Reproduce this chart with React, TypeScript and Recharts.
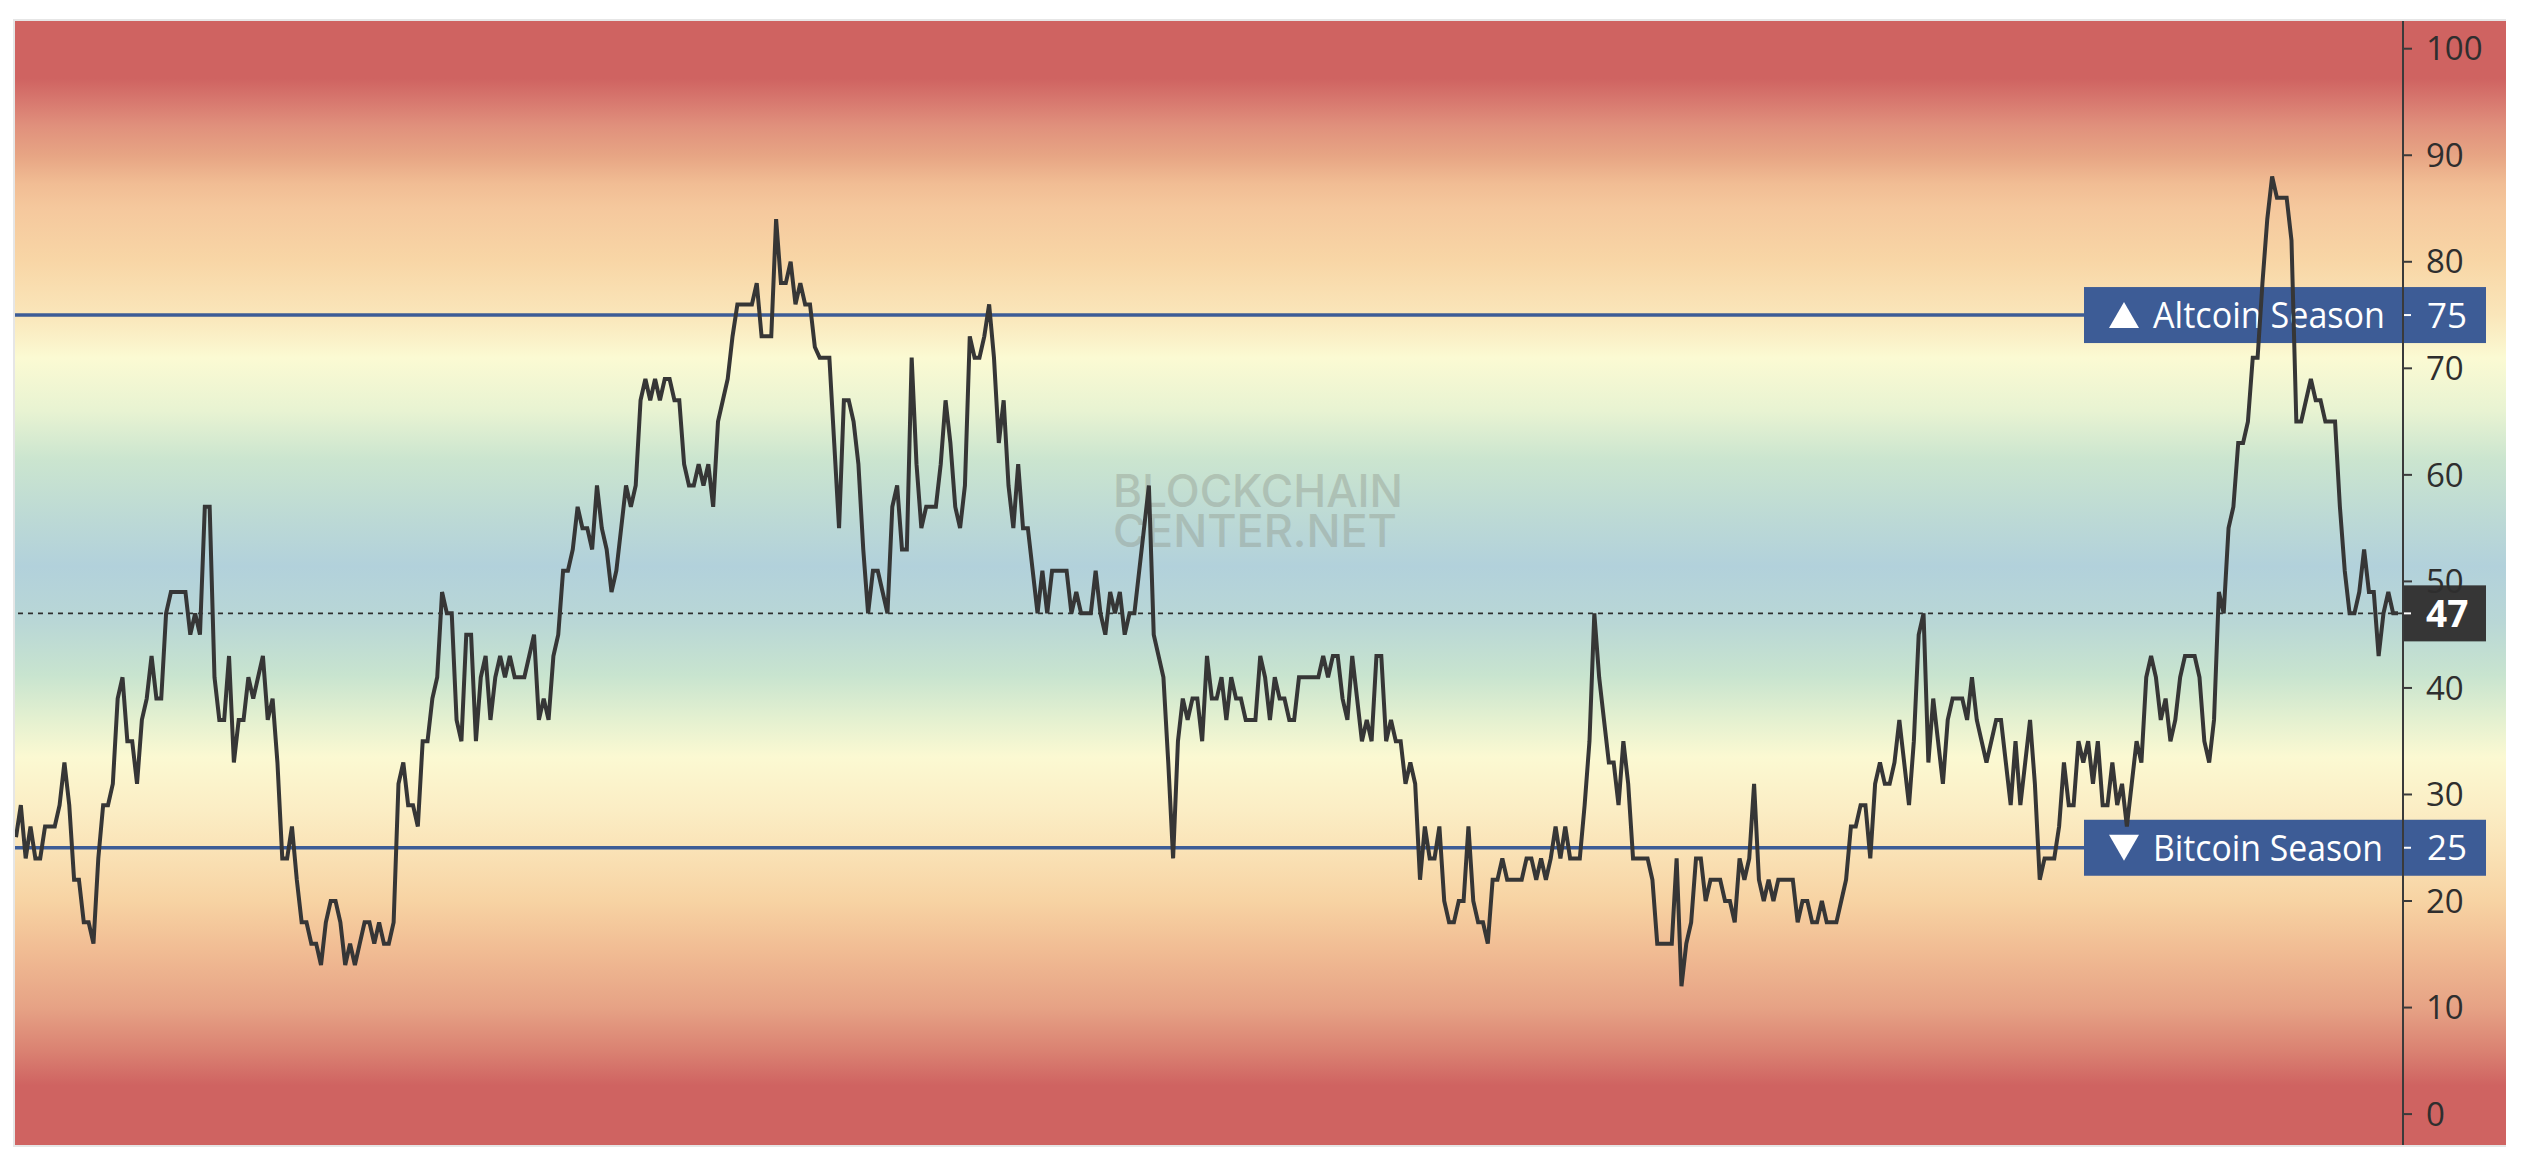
import React from 'react';
import { LineChart, Line, XAxis, YAxis, ReferenceLine } from 'recharts';

// Altcoin Season Index, one reading per day
const altcoinIndex: number[] = [
  26, 29, 24, 27, 24, 24, 27, 27, 27, 29, 33, 29, 22, 22, 18, 18, 16, 24, 29, 29,
  31, 39, 41, 35, 35, 31, 37, 39, 43, 39, 39, 47, 49, 49, 49, 49, 45, 47, 45, 57,
  57, 41, 37, 37, 43, 33, 37, 37, 41, 39, 41, 43, 37, 39, 33, 24, 24, 27, 22, 18,
  18, 16, 16, 14, 18, 20, 20, 18, 14, 16, 14, 16, 18, 18, 16, 18, 16, 16, 18, 31,
  33, 29,
  29, 27, 35, 35, 39, 41, 49, 47, 47, 37, 35, 45, 45, 35, 41, 43, 37, 41, 43, 41,
  43, 41, 41, 41, 43, 45, 37, 39, 37, 43, 45, 51, 51, 53, 57, 55, 55, 53, 59, 55,
  53, 49, 51, 55, 59, 57, 59, 67, 69, 67, 69, 67, 69, 69, 67, 67, 61, 59, 59, 61,
  59, 61, 57, 65, 67, 69, 73, 76, 76, 76, 76, 78, 73, 73, 73, 84, 78, 78, 80, 76,
  78, 76, 76, 72, 71, 71, 71, 63, 55, 67, 67, 65, 61, 53, 47, 51, 51, 49, 47, 57,
  59, 53, 53, 71, 61, 55, 57, 57, 57, 61, 67, 63, 57, 55, 59, 73, 71, 71, 73, 76,
  71, 63, 67, 59, 55, 61, 55, 55, 51, 47, 51, 47, 51, 51, 51, 51, 47, 49, 47, 47,
  47, 51, 47, 45, 49, 47, 49, 45, 47, 47, 51, 55, 59, 45, 43, 41, 33, 24, 35, 39,
  37, 39, 39,
  35, 43, 39, 39, 41, 37, 41, 39, 39, 37, 37, 37, 43, 41, 37, 41, 39, 39, 37, 37,
  41, 41, 41, 41, 41, 43, 41, 43, 43, 39, 37, 43, 39, 35, 37, 35, 43, 43, 35, 37,
  35, 35, 31, 33, 31, 22, 27, 24, 24, 27, 20, 18, 18, 20, 20, 27, 20, 18, 18, 16,
  22, 22, 24, 22, 22, 22, 22, 24, 24, 22, 24, 22, 24, 27, 24, 27, 24, 24, 24, 29,
  35, 47,
  41, 37, 33, 33, 29, 35, 31, 24, 24, 24, 24, 22, 16, 16, 16, 16, 24, 12, 16, 18,
  24, 24, 20, 22, 22, 22, 20, 20, 18, 24, 22, 24, 31, 22, 20, 22, 20, 22, 22, 22,
  22, 18, 20, 20, 18, 18, 20, 18, 18, 18, 20, 22, 27, 27, 29, 29, 24, 31, 33, 31,
  31, 33, 37, 33, 29, 35, 45, 47, 33, 39, 35, 31, 37, 39, 39, 39, 37, 41, 37, 35,
  33, 35, 37,
  37, 33, 29, 35, 29, 33, 37, 31, 22, 24, 24, 24, 27, 33, 29, 29, 35, 33, 35, 31,
  35, 29, 29, 33, 29, 31, 27, 31, 35, 33, 41, 43, 41, 37, 39, 35, 37, 41, 43, 43,
  43, 41, 35, 33, 37, 49, 47, 55, 57, 63, 63, 65, 71, 71, 78, 84, 88, 86, 86, 86,
  82, 65, 65, 67, 69, 67, 67, 65, 65, 65, 57, 51, 47, 47, 49, 53, 49, 49, 43, 47,
  49, 47, 47,
];

const yTicks: number[] = [0, 10, 20, 30, 40, 50, 60, 70, 80, 90, 100];
const yDomain: [number, number] = [-2.9, 102.6];
const altcoinThreshold = 75;
const bitcoinThreshold = 25;
const altcoinText = 'Altcoin Season';
const bitcoinText = 'Bitcoin Season';
const watermarkLines: string[] = ['BLOCKCHAIN', 'CENTER.NET'];

const data = altcoinIndex.map((value, day) => ({ day, value }));
const lastValue = altcoinIndex[altcoinIndex.length - 1];

const FONT = '"Open Sans", "DejaVu Sans", sans-serif';
const BLUE = '#3d5c96';
const INK = '#363636';

const background =
  'linear-gradient(to bottom,' +
  '#cf6361 0%, #cf6361 5.1%, #d87a70 7.3%, #e0907c 9.3%, #e7a584 12%, #f1bd94 14.5%,' +
  '#f5c89d 16.7%, #f8d6a6 21.4%, #fae6ba 26.2%, #fbfad3 30%, #e8f3d2 34.7%, #cbe5cf 39%,' +
  '#bddad5 44%, #b2d1db 48.5%, #b9d7d6 53.5%, #c8e4cf 58.2%, #e3f0d0 62%, #fbf9d2 65.5%,' +
  '#fbedc4 70.3%, #fae3b7 73.6%, #f7d3a3 78.3%, #f1bd94 82.5%, #e6a285 87.8%, #da8272 91.6%,' +
  '#cf6361 94.7%, #cf6361 100%)';

type TagProps = { viewBox?: any; text: string; value: number; up: boolean; textWidth: number };

function SeasonTag({ viewBox, text, value, up, textWidth }: TagProps) {
  if (!viewBox) return null;
  const { x, y, width } = viewBox;
  const r = x + width;
  const t0 = r - 294;
  const t1 = r - 264;
  const tc = (t0 + t1) / 2;
  const pts = up
    ? `${tc},${y - 13} ${t1},${y + 13} ${t0},${y + 13}`
    : `${t0},${y - 13} ${t1},${y - 13} ${tc},${y + 13}`;
  return (
    <g>
      <rect x={r - 319} y={y - 28} width={402} height={56} fill={BLUE} />
      <polygon points={pts} fill="#ffffff" />
      <text
        x={r - 250}
        y={y}
        dy="0.36em"
        fill="#ffffff"
        fontSize={36}
        fontFamily={FONT}
        textLength={textWidth}
        lengthAdjust="spacingAndGlyphs"
      >
        {text}
      </text>
      <line x1={r} x2={r + 8} y1={y} y2={y} stroke="#ffffff" strokeWidth={2} />
      <text x={r + 24} y={y} dy="0.36em" fill="#ffffff" fontSize={35} fontFamily={FONT}>
        {value}
      </text>
    </g>
  );
}

function LastTag({ viewBox, value }: { viewBox?: any; value: number }) {
  if (!viewBox) return null;
  const { x, y, width } = viewBox;
  const r = x + width;
  return (
    <g>
      <rect x={r - 1} y={y - 28} width={84} height={56} fill="#363636" />
      <line x1={r} x2={r + 8} y1={y} y2={y} stroke="#ffffff" strokeWidth={2} />
      <text x={r + 23} y={y} dy="0.36em" fill="#ffffff" fontSize={37} fontWeight={700} fontFamily={FONT}>
        {value}
      </text>
    </g>
  );
}

export default function App() {
  return (
    <div>
      <div style={{ position: 'absolute', left: 13, top: 19, width: 2493, height: 1128, background: '#e6e6e6' }} />
      <div style={{ position: 'absolute', left: 15, top: 21, width: 2491, height: 1124, background }}>
        <svg width={2491} height={1124} style={{ position: 'absolute', left: 0, top: 0 }}>
          {watermarkLines.map((w, i) => (
            <text
              key={w}
              x={1098}
              y={486 + i * 40}
              fontSize={45}
              fontFamily='"Inter", "Open Sans", sans-serif'
              fontWeight={500}
              fill="#8f968a"
              opacity={0.4}
              textLength={i === 0 ? 290 : 284}
              lengthAdjust="spacingAndGlyphs"
            >
              {w}
            </text>
          ))}
        </svg>
        <div style={{ position: 'absolute', left: 0, top: 0 }}>
          <LineChart width={2491} height={1124} data={data} margin={{ top: 0, right: 0, bottom: 0, left: 0 }}>
            <XAxis dataKey="day" hide padding={{ left: 1, right: 5 }} />
            <YAxis
              orientation="right"
              type="number"
              domain={yDomain}
              ticks={yTicks}
              interval={0}
              allowDataOverflow
              width={103}
              axisLine={{ stroke: '#3a3a3a', strokeWidth: 2 }}
              tickLine={{ stroke: '#3a3a3a', strokeWidth: 2 }}
              tickSize={9}
              tickMargin={14}
              tick={{ fill: '#2e2e2e', fontSize: 33, fontFamily: FONT }}
            />
            <ReferenceLine
              y={altcoinThreshold}
              stroke={BLUE}
              strokeWidth={3.5}
              label={<SeasonTag text={altcoinText} value={altcoinThreshold} up={true} textWidth={232} />}
            />
            <ReferenceLine
              y={bitcoinThreshold}
              stroke={BLUE}
              strokeWidth={3.5}
              label={<SeasonTag text={bitcoinText} value={bitcoinThreshold} up={false} textWidth={230} />}
            />
            <ReferenceLine
              y={lastValue}
              stroke="#2f2f2f"
              strokeWidth={1.8}
              strokeDasharray="5 5"
              label={<LastTag value={lastValue} />}
            />
            <Line
              type="linear"
              dataKey="value"
              stroke={INK}
              strokeWidth={4}
              dot={false}
              activeDot={false}
              isAnimationActive={false}
              {...({ zIndex: 2500 } as any)}
            />
          </LineChart>
        </div>
      </div>
    </div>
  );
}
